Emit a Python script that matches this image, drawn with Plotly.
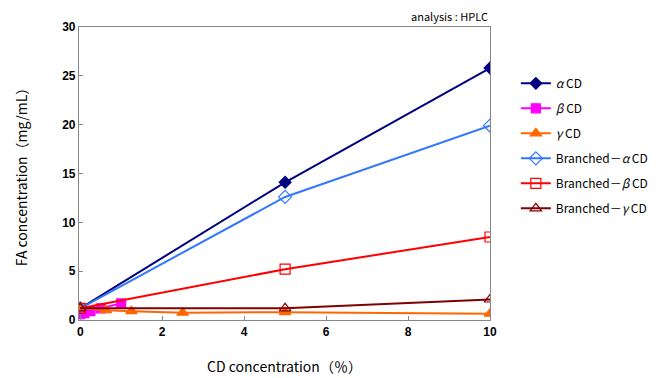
import plotly.graph_objects as go

cd_main = [0, 5, 10]
alpha_cd = [1.2, 14.1, 25.8]
beta_x = [0, 0.1, 0.25, 0.5, 1.0]
beta_cd = [0.6, 0.7, 0.9, 1.2, 1.7]
gamma_x = [0, 0.625, 1.25, 2.5, 5, 10]
gamma_cd = [1.2, 1.0, 0.9, 0.75, 0.8, 0.65]
br_alpha = [1.2, 12.6, 19.9]
br_beta = [1.2, 5.2, 8.5]
br_gamma = [1.2, 1.2, 2.1]

x_ticks = [0, 2, 4, 6, 8, 10]
y_ticks = [0, 5, 10, 15, 20, 25, 30]

names = ["<i>α</i> CD", "<i>β</i> CD", "<i>γ</i> CD",
         "Branched－<i>α</i> CD", "Branched－<i>β</i> CD", "Branched－<i>γ</i> CD"]
xs = [cd_main, beta_x, gamma_x, cd_main, cd_main, cd_main]
ys = [alpha_cd, beta_cd, gamma_cd, br_alpha, br_beta, br_gamma]
colors = ["#000080", "#FF00FF", "#FF6600", "#3377FF", "#FF0000", "#800000"]
symbols = ["diamond", "square", "triangle-up", "diamond-open", "square-open", "triangle-up-open"]
sizes = [9, 9, 10, 10, 10, 10]

fig = go.Figure()
for i, (n, x, y, c, s, sz) in enumerate(zip(names, xs, ys, colors, symbols, sizes)):
    fig.add_trace(go.Scatter(
        x=x, y=y, name=n, mode="lines+markers",
        line=dict(color=c, width=2),
        marker=dict(symbol=s, size=sz, color=c, line=dict(color=c, width=1.2)),
        legendgroup=f"g{i}",
    ))

axis_common = dict(
    showline=True, linecolor="#888888", linewidth=1.2, mirror=True,
    ticks="inside", ticklen=4, tickcolor="#888888",
    showgrid=False, zeroline=False, automargin=True,
    tickfont=dict(family="Liberation Sans, Arial", size=12, color="black"),
)

fig.update_layout(
    width=657, height=378,
    margin=dict(l=71, r=175, t=16, b=66),
    paper_bgcolor="white", plot_bgcolor="white",
    font=dict(family="Noto Sans CJK JP, Liberation Sans", color="black", size=13),
    xaxis=dict(range=[-0.03, 10.0], tickvals=x_ticks,
               ticktext=[f"<b>{v}</b>" for v in x_ticks],
               title=dict(text="CD concentration（％）", font=dict(size=14), standoff=24),
               **axis_common),
    yaxis=dict(range=[0, 30], tickvals=y_ticks,
               ticktext=[f"<b>{v}</b>" for v in y_ticks],
               title=dict(text="FA concentration（mg/mL）", font=dict(size=14), standoff=31),
               **axis_common),
    legend=dict(xref="container", yref="container", x=0.773, y=0.839,
                xanchor="left", yanchor="top",
                font=dict(size=12), tracegroupgap=6, traceorder="grouped",
                bgcolor="rgba(0,0,0,0)"),
    annotations=[dict(text="analysis : HPLC", xref="paper", yref="paper",
                      x=1.0, y=1.0, xanchor="right", yanchor="bottom", yshift=1,
                      showarrow=False, font=dict(size=11))],
)

fig.write_html("out.html")
